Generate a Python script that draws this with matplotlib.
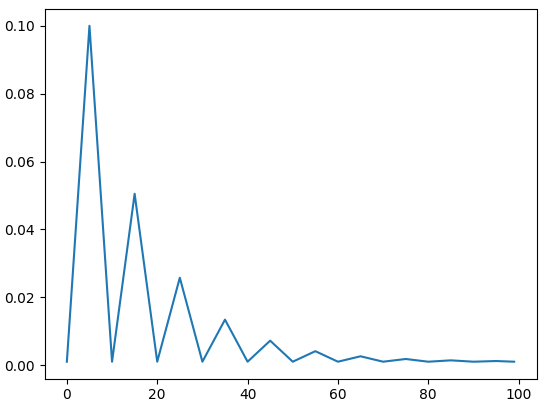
import matplotlib
matplotlib.use('Agg')
import matplotlib.pyplot as plt

# Sample positions and values
x = [0, 5, 10, 15, 20, 25, 30, 35, 40, 45, 50, 55, 60, 65, 70, 75, 80, 85, 90, 95, 99]
y = [0.001, 0.1, 0.001, 0.0505, 0.001, 0.02575, 0.001, 0.0134, 0.001, 0.0072,
     0.001, 0.0041, 0.001, 0.0026, 0.001, 0.0018, 0.001, 0.0014, 0.001, 0.0012, 0.001]

fig = plt.figure(figsize=(5.46, 4.09), dpi=100)
ax = fig.add_axes([44.5/546, 1 - 378.5/409, (536.5 - 44.5)/546, 369.5/409])
ax.plot(x, y)

fig.savefig('out.png', dpi=100)
